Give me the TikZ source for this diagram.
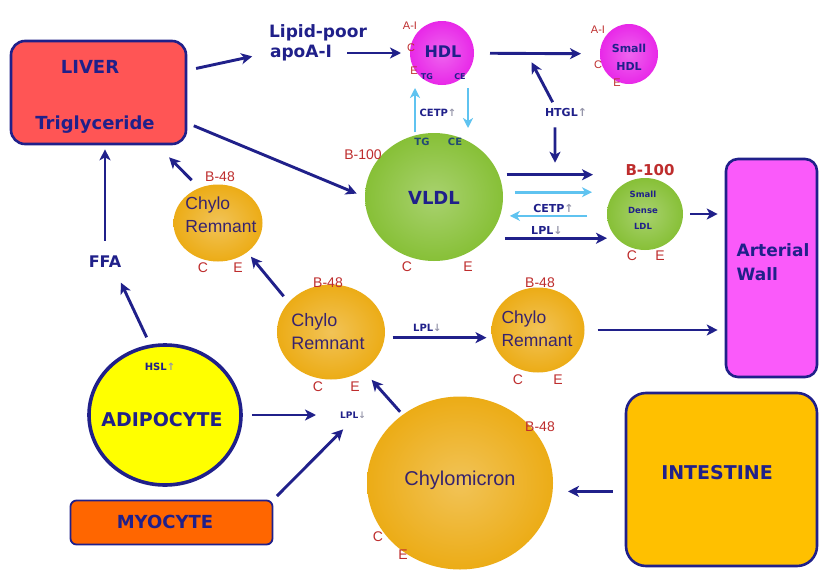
\documentclass[tikz,border=0pt]{standalone}
\usepackage{fontspec}
\setmainfont{DejaVu Sans}
\newfontfamily\arialfont{Liberation Sans}
\usetikzlibrary{arrows.meta,shapes.geometric}

\definecolor{lp_navy}{RGB}{32,32,138}
\definecolor{lp_ink}{RGB}{55,35,110}
\definecolor{lp_teal}{RGB}{35,75,115}
\definecolor{lp_red}{RGB}{190,45,45}
\definecolor{lp_sky}{RGB}{95,195,240}
\definecolor{lp_grey}{RGB}{150,150,170}
\definecolor{lp_liver}{RGB}{255,85,85}
\definecolor{lp_magenta}{RGB}{232,40,232}
\definecolor{lp_green}{RGB}{135,192,55}
\definecolor{lp_gold}{RGB}{236,172,22}
\definecolor{lp_yellow}{RGB}{255,255,0}
\definecolor{lp_orange}{RGB}{255,102,0}
\definecolor{lp_amber}{RGB}{255,192,0}
\definecolor{lp_wall}{RGB}{250,90,250}

\newcommand{\upmark}{{\color{lp_grey}↑}}
\newcommand{\downmark}{{\color{lp_grey}↓}}

\tikzset{
  organ/.style={draw=lp_navy, line width=2.6pt, rounded corners=14pt, inner sep=0pt},
  particle/.style={ellipse, inner sep=0pt, outer sep=0pt, inner color=#1!72!white, outer color=#1},
  heavy/.style={text=lp_navy, font=\bfseries\fontsize{18}{21}\selectfont, inner sep=2pt},
  soft/.style={text=lp_ink, font=\arialfont\fontsize{17.5}{23}\selectfont, align=left, inner sep=0pt},
  apo/.style={text=lp_red, font=\arialfont\fontsize{14}{14}\selectfont, inner sep=0pt},
  enzyme/.style={text=lp_navy, font=\bfseries\fontsize{10}{10}\selectfont, inner sep=1pt},
  flow/.style={draw=lp_navy, line width=2.9pt, -{Stealth[length=11pt, width=11pt, inset=3pt]}},
  cetp/.style={draw=lp_sky, line width=2.7pt, -{Stealth[length=10pt, width=10pt, inset=3pt]}},
}

\begin{document}
\begin{tikzpicture}[x=1pt, y=-1pt]
    % slide canvas, in pixels of the original
    \useasboundingbox (0,0) rectangle (819,570);
    \fill[white] (0,0) rectangle (819,570);

    % organs and tissues
    \node[organ, fill=lp_liver, minimum width=175pt, minimum height=103pt] (liver) at (98.5,92.5) {};
    \node[heavy] (livername) at (90,67) {LIVER};
    \node[heavy] (livertg) at (95,125) {Triglyceride};
    \node[organ, fill=lp_wall, rounded corners=12pt, minimum width=91pt, minimum height=218pt] (wall) at (771.5,268) {};
    \node[heavy, font=\bfseries\fontsize{17}{24}\selectfont, align=left] (wallname) at (773,262) {Arterial\\Wall};
    \node[organ, fill=lp_amber, rounded corners=20pt, minimum width=191pt, minimum height=173pt] (intestine) at (721.5,479.5) {};
    \node[heavy, font=\bfseries\fontsize{19}{21}\selectfont] (intestname) at (717,473) {INTESTINE};
    \node[organ, fill=lp_orange, rounded corners=6pt, line width=1.8pt, minimum width=202pt, minimum height=44pt] (myocyte) at (171.5,522.5) {};
    \node[heavy] (myoname) at (165,522) {MYOCYTE};
    \node[ellipse, draw=lp_navy, line width=3.6pt, fill=lp_yellow, minimum width=152pt, minimum height=140pt] (adipo) at (165,415) {};
    \node[heavy, font=\bfseries\fontsize{19}{21}\selectfont] (adiponame) at (162,420) {ADIPOCYTE};

    % lipoprotein particles
    \node[particle=lp_magenta, minimum width=64pt, minimum height=64pt] (hdl) at (442,53) {};
    \node[particle=lp_magenta, minimum width=58pt, minimum height=60pt] (smallhdl) at (629,54) {};
    \node[particle=lp_green, minimum width=138pt, minimum height=128pt] (vldl) at (434,197) {};
    \node[particle=lp_green, minimum width=76pt, minimum height=72pt] (ldl) at (645,214) {};
    \node[particle=lp_gold, minimum width=89pt, minimum height=77pt] (leftrem) at (218,223) {};
    \node[particle=lp_gold, minimum width=108pt, minimum height=95pt] (midrem) at (331,332) {};
    \node[particle=lp_gold, minimum width=93pt, minimum height=85pt] (rightrem) at (538,330) {};
    \node[particle=lp_gold, minimum width=186pt, minimum height=173pt] (chylo) at (460,483) {};

    % particle names
    \node[heavy, font=\bfseries\fontsize{16}{18}\selectfont] (hdlname) at (443,52) {HDL};
    \node[heavy, font=\bfseries\fontsize{11}{18}\selectfont, align=center] (smallhdlname) at (629,57) {Small\\HDL};
    \node[heavy] (vldlname) at (434,198) {VLDL};
    \node[heavy, font=\bfseries\fontsize{8.5}{16}\selectfont, align=center] (ldlname) at (643,210) {Small\\Dense\\LDL};
    \node[heavy, text=lp_red, font=\bfseries\fontsize{15}{17}\selectfont] (ldlapo) at (650,170) {B-100};
    \node[soft] (leftremname) at (221,215) {Chylo\\Remnant};
    \node[soft, font=\arialfont\fontsize{18}{23}\selectfont] (midremname) at (328,332) {Chylo\\Remnant};
    \node[soft] (rightremname) at (537,329) {Chylo\\Remnant};
    \node[soft, font=\arialfont\fontsize{20}{22}\selectfont] (chyloname) at (460,480) {Chylomicron};

    % apolipoproteins
    \foreach \t/\x/\y [count=\i] in {A-I/410/26, C/411/48, E/414/71, A-I/598/30, C/598/65, E/617/83}
      \node[apo, font=\arialfont\fontsize{11}{11}\selectfont] (hdlapo\i) at (\x,\y) {\t};
    \foreach \t/\x/\y [count=\i] in {B-100/363/155, C/407/267, E/468/267, C/632/256, E/660/256,
        B-48/220/177, C/203/268, E/238/268, B-48/328/283, C/318/387, E/355/387,
        B-48/540/283, C/518/380, E/558/380, B-48/540/427, C/378/537, E/403/555}
      \node[apo] (apo\i) at (\x,\y) {\t};

    % core lipids
    \node[enzyme, font=\bfseries\fontsize{8}{8}\selectfont] (hdltg) at (427,77) {TG};
    \node[enzyme, font=\bfseries\fontsize{8}{8}\selectfont] (hdlce) at (460,77) {CE};
    \node[enzyme, text=lp_teal] (vldltg) at (422,142) {TG};
    \node[enzyme, text=lp_teal] (vldlce) at (455,142) {CE};

    % enzymes and free labels
    \node[enzyme] (cetpup) at (438,113) {CETP\upmark};
    \node[enzyme, font=\bfseries\fontsize{11}{11}\selectfont] (htgl) at (566,112) {HTGL\upmark};
    \node[enzyme] (hsl) at (160,367) {HSL\upmark};
    \node[enzyme, font=\bfseries\fontsize{9}{9}\selectfont] (lplmus) at (353,415) {LPL\downmark};
    \node[heavy, font=\bfseries\fontsize{16}{18}\selectfont] (ffa) at (105,262) {FFA};
    \node[heavy, font=\bfseries\fontsize{17}{20}\selectfont] (lipid) at (318,33) {Lipid-poor};
    \node[heavy, font=\bfseries\fontsize{17}{20}\selectfont] (apoa) at (301,53) {apoA-I};

    % HDL branch
    \draw[flow, shorten <=9pt, shorten >=16pt] (liver.14) -- (apoa.west);
    \draw[flow, shorten <=13pt, shorten >=9pt] (apoa.east) -- (hdl.west);
    \draw[flow, shorten <=16pt, shorten >=19pt] (hdl) -- (smallhdl) coordinate[pos=0.42] (hdlconv);
    \draw[flow, shorten <=5pt, shorten >=10pt] ([xshift=-11pt]htgl.north) -- (hdlconv);
    \draw[cetp, shorten <=1pt, shorten >=3pt] ([xshift=-19pt]vldl.north) -- ([xshift=-27pt]hdl.south);
    \draw[cetp, shorten <=3pt, shorten >=5pt] ([xshift=26pt]hdl.south) -- ([xshift=34pt]vldl.north);

    % VLDL to small dense LDL
    \draw[flow, shorten <=7pt, shorten >=9pt] (liver.-19) -- (vldl.west);
    \draw[flow, shorten <=8pt, shorten >=14pt] (vldl.19) -- (vldl.19 -| ldl.west) coordinate[pos=0.52] (ldlconv);
    \draw[flow, shorten <=10pt, shorten >=12pt] ([xshift=-11pt]htgl.south) -- (ldlconv);
    \draw[cetp, shorten <=12pt, shorten >=15pt] (vldl.4) -- (vldl.4 -| ldl.west);
    \draw[cetp, shorten <=20pt, shorten >=10pt] (vldl.-16 -| ldl.west) -- (vldl.-16)
      node[enzyme, font=\bfseries\fontsize{11}{11}\selectfont, midway, above=1pt] (cetpdn) {CETP\upmark};
    \draw[flow, shorten <=18pt] (vldl.-38) -- (vldl.-38 -| ldl.west)
      node[enzyme, font=\bfseries\fontsize{11}{11}\selectfont, midway, above=1pt] (lplvl) {LPL\downmark};
    \draw[flow, shorten <=7pt, shorten >=7pt] (ldl.east) -- (ldl.east -| wall.west);

    % chylomicron branch
    \draw[flow, shorten <=12pt, shorten >=15pt] (intestine.187) -- (intestine.187 -| chylo.east);
    \draw[flow, shorten <=4pt, shorten >=13pt] (chylo.130) -- (midrem.-50);
    \draw[flow, shorten <=8pt, shorten >=5pt] (midrem.-6) -- (midrem.-6 -| rightrem.west)
      node[enzyme, pos=0.4, above=4pt] (lplrem) {LPL\downmark};
    \draw[flow, shorten <=13pt, shorten >=7pt] (rightrem.east) -- (rightrem.east -| wall.west);
    \draw[flow, shorten <=8pt, shorten >=6pt] (midrem.145) -- (leftrem.-45);
    \draw[flow, shorten <=11pt, shorten >=17pt] (leftrem.118) -- (liver.-42);

    % fatty acid return
    \draw[flow, shorten <=9pt, shorten >=23pt] (adipo.east) -- (lplmus.west);
    \draw[flow, shorten <=5pt, shorten >=14pt] (myocyte.north east) -- (lplmus.south);
    \draw[flow, shorten <=8pt, shorten >=14pt] (adipo.102) -- ([xshift=10pt]ffa.south);
    \draw[flow, shorten <=13pt, shorten >=4pt] (ffa.north) -- (ffa.north |- liver.south);
\end{tikzpicture}
\end{document}
